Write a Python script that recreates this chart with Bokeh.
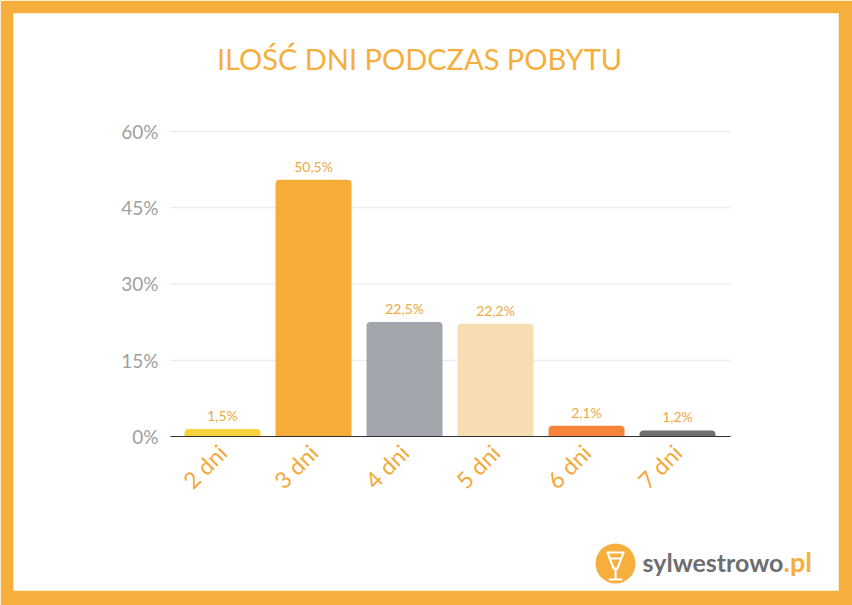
from math import pi
from bokeh.plotting import figure
from bokeh.models import (ColumnDataSource, Range1d, FixedTicker, PrintfTickFormatter,
                          LabelSet, Label)
from bokeh.core.properties import value
from bokeh.embed import file_html
from bokeh.resources import INLINE

categories = ["2 dni", "3 dni", "4 dni", "5 dni", "6 dni", "7 dni"]
values = [1.5, 50.5, 22.5, 22.2, 2.1, 1.2]
colors = ["#F9D33C", "#F6AC38", "#A3A6AC", "#F6DDB2", "#F8843C", "#6F7072"]
y_ticks = [0, 15, 30, 45, 60]

ORANGE = "#F6AE3C"
LABEL_ORANGE = "#EEA93F"
FONT = "Lato"

idx = list(range(len(categories)))
labels = [f"{v:.1f}%".replace(".", ",") for v in values]
src = ColumnDataSource(dict(x=idx, top=values, color=colors, label=labels))

# plotting area spans the whole white card; axes sit at fixed locations inside it
X0, X1 = -0.571, 5.582          # extent of the value axis / grid (category units)
p = figure(width=852, height=605, output_backend="svg", toolbar_location=None,
           x_range=Range1d(-2.297, 6.769), y_range=Range1d(-30.295, 83.213),
           min_border_left=13, min_border_right=14, min_border_top=13,
           min_border_bottom=15, background_fill_color="white",
           border_fill_color=ORANGE, outline_line_color=None)
p.title.visible = False
p.xgrid.visible = False
p.ygrid.visible = False

# horizontal grid lines
p.segment(x0=X0, x1=X1, y0=y_ticks[1:], y1=y_ticks[1:], line_color="#E6E6E6",
          line_width=1)

p.vbar(x="x", top="top", width=0.835, bottom=0, color="color", source=src,
       line_color=None, border_radius=(4, 4, 0, 0))

p.add_layout(LabelSet(x="x", y="top", text="label", source=src, y_offset=5,
                      text_align="center", text_baseline="bottom",
                      text_font=value(FONT), text_font_size="14px",
                      text_color=LABEL_ORANGE))

# axes
xa = p.xaxis[0]
xa.fixed_location = 0
xa.bounds = (X0, X1)
xa.ticker = FixedTicker(ticks=idx)
xa.major_label_overrides = {i: c for i, c in zip(idx, categories)}
xa.major_label_orientation = pi / 4
xa.major_label_text_font = FONT
xa.major_label_text_font_size = "23px"
xa.major_label_text_color = "#F2A93B"
xa.major_tick_line_color = None
xa.major_tick_out = 0
xa.major_tick_in = 0
xa.minor_tick_line_color = None
xa.axis_line_color = "#333333"
xa.major_label_standoff = 12

ya = p.yaxis[0]
ya.fixed_location = X0
ya.bounds = (0, 60)
ya.ticker = FixedTicker(ticks=y_ticks)
ya.formatter = PrintfTickFormatter(format="%d%%")
ya.major_label_text_font = FONT
ya.major_label_text_font_size = "19px"
ya.major_label_text_color = "#A0A0A0"
ya.axis_line_color = None
ya.major_tick_line_color = None
ya.major_tick_out = 0
ya.major_tick_in = 0
ya.minor_tick_line_color = None
ya.major_label_standoff = 12

# title
p.add_layout(Label(x=2.165, y=74.4, text="ILOŚĆ DNI PODCZAS POBYTU",
                   text_align="center", text_baseline="middle", text_font=FONT,
                   text_font_size="29px", text_color=ORANGE))

# logo (positions in pixels relative to the logo centre, converted to data units)
PX_X = 91.0      # pixels per category unit
PX_Y = 5.0833    # pixels per percent
LX, LY = 4.319, -24.98

def dx(px):
    return LX + px / PX_X

def dy(py):
    return LY - py / PX_Y

p.scatter(x=[LX], y=[LY], size=40, color=ORANGE, line_color=None)
glass = [
    ([-8, 8, 2, -2, -8], [-11, -11, 5, 5, -11]),   # bowl
    ([0, 0], [5, 15]),                             # stem
    ([-6, 6], [16, 16]),                           # base
    ([-6, 5], [-5, -5]),                           # inner line
]
p.multi_line(xs=[[dx(v) for v in g[0]] for g in glass],
             ys=[[dy(v) for v in g[1]] for g in glass],
             line_color="white", line_width=2.2, line_join="round",
             line_cap="round")
p.add_layout(Label(x=4.615, y=-24.6, text="sylwestrowo", text_align="left",
                   text_baseline="middle", text_font=FONT,
                   text_font_style="bold", text_font_size="25px",
                   text_color="#6D6E70"))
p.add_layout(Label(x=6.165, y=-24.6, text=".pl", text_align="left",
                   text_baseline="middle", text_font=FONT,
                   text_font_style="bold", text_font_size="27px",
                   text_color=ORANGE))

open("out.html", "w").write(file_html(p, INLINE))
